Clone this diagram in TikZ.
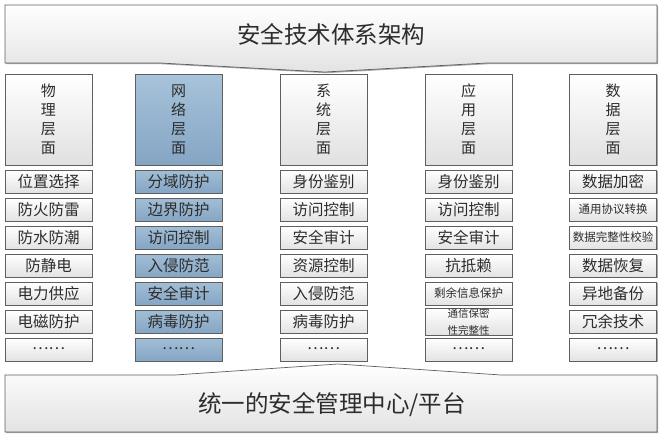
\documentclass[tikz,border=0pt]{standalone}
\usepackage{fontspec}
\setmainfont{Noto Sans CJK SC}
\usetikzlibrary{shadows}
\definecolor{bord}{RGB}{95,95,95}
\definecolor{blueA}{RGB}{168,195,218}
\definecolor{blueB}{RGB}{132,165,196}
\definecolor{txt}{RGB}{45,45,45}
\newcommand{\smallfs}{\fontsize{11.5}{12}\selectfont}
\newcommand{\tinyfs}{\fontsize{10.5}{11}\selectfont}
\newcommand{\dotsfill}{\raisebox{2.5pt}{……}}
\tikzset{
  shad/.style={drop shadow={shadow xshift=1.2pt, shadow yshift=-1.2pt, opacity=0.35, fill=black}},
  hdr/.style={draw=bord, line width=0.7pt, top color=white, bottom color=gray!24,
    minimum width=87pt, minimum height=91pt, inner sep=0pt, align=center,
    font=\fontsize{15}{19}\selectfont, text=txt, shad},
  bhdr/.style={hdr, top color=blueA, bottom color=blueB},
  item/.style={draw=bord, line width=0.7pt, top color=white, bottom color=gray!22,
    minimum width=87pt, minimum height=23pt, inner sep=0pt, align=center,
    font=\fontsize{15.5}{17}\selectfont, text=txt, shad},
  bitem/.style={item, top color=blueA!85!blueB, bottom color=blueB},
  banner/.style={draw=bord, line width=0.7pt, top color=white, bottom color=gray!22, shad},
  btext/.style={font=\fontsize{23.5}{26}\selectfont, text=txt}
}
\begin{document}
\begin{tikzpicture}[x=1pt,y=-1pt]
\useasboundingbox (0,0) rectangle (662,434);
% top banner
\path[banner] (5,5) -- (657,5) -- (657,63) -- (487,63) -- (325,72) -- (160,63) -- (5,63) -- cycle;
\node[btext] (top) at (331,34) {安全技术体系架构};
% bottom banner
\path[banner] (5,375) -- (175,375) -- (338,364) -- (501,375) -- (657,375) -- (657,432) -- (5,432) -- cycle;
\node[btext] (bot) at (332,405) {统一的安全管理中心/平台};
% headers
\node[hdr]  (h1) at (48.5,119.5)  {物\\理\\层\\面};
\node[bhdr] (h2) at (178.5,119.5) {网\\络\\层\\面};
\node[hdr]  (h3) at (323.5,119.5) {系\\统\\层\\面};
\node[hdr]  (h4) at (468.5,119.5) {应\\用\\层\\面};
\node[hdr]  (h5) at (613,119.5)   {数\\据\\层\\面};
% items
\foreach \t [count=\i] in {位置选择,防火防雷,防水防潮,防静电,电力供应,电磁防护,\dotsfill}
  \node[item] (a\i) at (48.5,{181.5+28*(\i-1)}) {\t};
\foreach \t [count=\i] in {分域防护,边界防护,访问控制,入侵防范,安全审计,病毒防护,\dotsfill}
  \node[bitem] (b\i) at (178.5,{181.5+28*(\i-1)}) {\t};
\foreach \t [count=\i] in {身份鉴别,访问控制,安全审计,资源控制,入侵防范,病毒防护,\dotsfill}
  \node[item] (c\i) at (323.5,{181.5+28*(\i-1)}) {\t};
\foreach \t [count=\i] in {身份鉴别,访问控制,安全审计,抗抵赖,{\smallfs 剩余信息保护},{\tinyfs 通信保密\\\tinyfs 性完整性},\dotsfill}
  \node[item] (d\i) at (468.5,{181.5+28*(\i-1)}) {\t};
\foreach \t [count=\i] in {数据加密,{\smallfs 通用协议转换},{\smallfs 数据完整性校验},数据恢复,异地备份,冗余技术,\dotsfill}
  \node[item] (e\i) at (613,{181.5+28*(\i-1)}) {\t};
\end{tikzpicture}
\end{document}
